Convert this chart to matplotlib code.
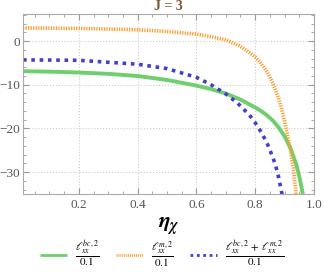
import matplotlib
matplotlib.use("Agg")
import matplotlib.pyplot as plt
import numpy as np
from matplotlib.ticker import MultipleLocator

# values
eta_bc = [0.01, 0.1, 0.2, 0.3, 0.4, 0.5, 0.6, 0.65, 0.7, 0.75, 0.8, 0.82, 0.84, 0.86, 0.88,
          0.9, 0.92, 0.94, 0.95, 0.96, 0.97]
l_bc = [-6.9, -7.0, -7.2, -7.5, -8.0, -8.9, -10.2, -11.0, -12.0, -13.4, -15.2, -16.0, -17.0,
        -18.2, -19.8, -21.8, -24.5, -28.3, -31.0, -34.3, -38.0]

eta_m = [0.01, 0.2, 0.4, 0.5, 0.6, 0.65, 0.7, 0.75, 0.8, 0.82, 0.84, 0.86, 0.88, 0.89,
         0.9, 0.91, 0.92, 0.93, 0.94]
l_m = [3.0, 2.9, 2.6, 2.2, 1.6, 1.0, 0.3, -1.2, -3.6, -5.1, -7.0, -9.6, -13.2, -15.6,
       -18.3, -21.5, -25.0, -29.2, -35.5]

eta_sum = [0.01, 0.2, 0.4, 0.5, 0.6, 0.65, 0.7, 0.74, 0.78, 0.8, 0.82, 0.84, 0.86, 0.87,
           0.88, 0.89, 0.9]
l_sum = [-4.3, -4.4, -5.3, -6.3, -8.3, -10.0, -12.1, -14.2, -16.9, -18.7, -20.8, -23.3,
         -26.6, -28.6, -31.3, -34.6, -38.0]

labels = [r'$\frac{\ell_{xx}^{bc,2}}{0.1}$',
          r'$\frac{\ell_{xx}^{m,2}}{0.1}$',
          r'$\frac{\ell_{xx}^{bc,2}\,+\,\ell_{xx}^{m,2}}{0.1}$']

plt.rcParams['font.family'] = ['Liberation Serif', 'DejaVu Serif']
plt.rcParams['mathtext.fontset'] = 'stix'

fig = plt.figure(figsize=(3.24, 2.75), dpi=100)
ax = fig.add_axes([0.071, 0.295, 0.898, 0.654])

ax.plot(eta_bc, l_bc, color='#6fcf6f', lw=2.8, solid_capstyle='butt', label=labels[0])
ax.plot(eta_m, l_m, color='#ff9d30', lw=2.6, ls=(0, (0.35, 0.35)), label=labels[1])
ax.plot(eta_sum, l_sum, color='#4040cc', lw=2.6, ls=(0, (1, 1.3)), label=labels[2])

ax.set_xlim(0.01, 1.0)
ax.set_ylim(-35, 6.2)
ax.xaxis.set_major_locator(MultipleLocator(0.2))
ax.xaxis.set_minor_locator(MultipleLocator(0.05))
ax.yaxis.set_major_locator(MultipleLocator(10))
ax.yaxis.set_minor_locator(MultipleLocator(2))
ax.set_xticks([0.2, 0.4, 0.6, 0.8, 1.0])
ax.set_xticklabels(['0.2', '0.4', '0.6', '0.8', '1.0'])
ax.tick_params(which='both', direction='in', top=True, right=True, colors='#999999',
               labelcolor='#555555', labelsize=9.5)
ax.tick_params(axis='y', pad=2)
ax.tick_params(which='major', length=4)
ax.tick_params(which='minor', length=2)
ax.grid(True, which='major', ls=':', color='#cccccc', lw=0.8)
for s in ax.spines.values():
    s.set_color('#aaaaaa')

ax.set_title('J = 3', color='#7a5230', fontsize=10, fontweight='bold', pad=3)
ax.set_xlabel(r'$\boldsymbol{\eta}_{\boldsymbol{\chi}}$', fontsize=16, labelpad=4)

leg = fig.legend(*ax.get_legend_handles_labels(), loc='center', bbox_to_anchor=(0.5, 0.075),
                 ncol=3, frameon=False, fontsize=11.5, handlelength=1.7, handletextpad=0.5,
                 columnspacing=1.0, borderaxespad=0)
for h in leg.get_lines():
    h.set_linewidth(2.0)

fig.savefig('out.png', dpi=100)
